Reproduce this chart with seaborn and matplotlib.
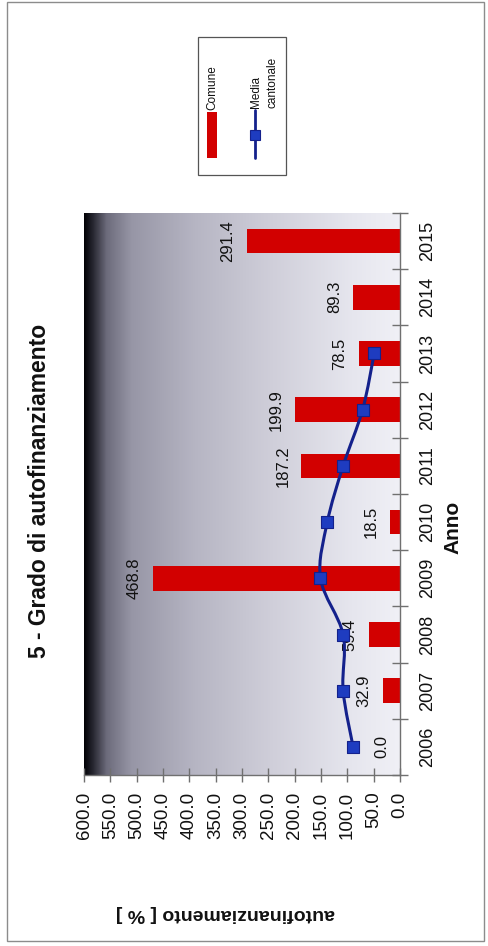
"""Grado di autofinanziamento: bars (Comune) + smoothed line (Media cantonale).

The page is printed rotated by 90 degrees, so the chart is built sideways:
horizontal bars, value axis inverted along x, every text turned by 90.
"""
import numpy as np
import pandas as pd
import seaborn as sns
import matplotlib.pyplot as plt
from matplotlib.colors import LinearSegmentedColormap
from matplotlib.patches import Rectangle, PathPatch
from matplotlib.path import Path
from matplotlib.lines import Line2D

anni = ["2006", "2007", "2008", "2009", "2010", "2011", "2012", "2013", "2014", "2015"]
comune = [0.0, 32.9, 59.4, 468.8, 18.5, 187.2, 199.9, 78.5, 89.3, 291.4]
anni_media = ["2006", "2007", "2008", "2009", "2010", "2011", "2012", "2013"]
media_cantonale = [89.0, 108.0, 108.0, 151.0, 138.0, 108.0, 71.0, 49.0]
valori_ticks = [0, 50, 100, 150, 200, 250, 300, 350, 400, 450, 500, 550, 600]

W, H = 489, 946
RED = "#d20000"
NAVY = "#14218c"
BLUE = "#1e3cc0"


def fx(px):
    return px / W


def fy(py):
    return 1 - py / H


def smooth_path(xs, ys):
    """Catmull-Rom through the points, as cubic Bezier segments."""
    pts = np.column_stack([xs, ys]).astype(float)
    n = len(pts)
    verts, codes = [pts[0]], [Path.MOVETO]
    for i in range(n - 1):
        p0, p1 = pts[max(i - 1, 0)], pts[i]
        p2, p3 = pts[i + 1], pts[min(i + 2, n - 1)]
        verts += [p1 + (p2 - p0) / 6, p2 - (p3 - p1) / 6, p2]
        codes += [Path.CURVE4] * 3
    return Path(verts, codes)


sns.set_style("white")
plt.rcParams["font.family"] = ["Liberation Sans", "DejaVu Sans"]
plt.rcParams.update({"text.color": "#111111", "xtick.color": "#111111",
                     "ytick.color": "#111111"})

df = pd.DataFrame({"anno": anni, "valore": comune})
dm = pd.DataFrame({"anno": anni_media, "valore": media_cantonale})
dm["pos"] = [anni.index(a) for a in dm["anno"]]

fig = plt.figure(figsize=(W / 100, H / 100), dpi=100)
fig.patches.append(Rectangle((fx(7), fy(941)), fx(484) - fx(7), fy(2) - fy(941),
                             transform=fig.transFigure, fill=False,
                             edgecolor="#8c8c8c", lw=1.0))

ax = fig.add_axes([fx(84), fy(775), fx(400) - fx(84), (775 - 213) / H])

# background gradient of the plot area (dark at 600, light at 0)
cmap = LinearSegmentedColormap.from_list("fondo", [
    (0.0, "#020206"), (0.03, "#2c2c36"), (0.07, "#6c6b7b"), (0.15, "#9796a6"),
    (0.35, "#b6b5c3"), (0.6, "#d0cfda"), (0.85, "#e6e6ee"), (1.0, "#f0f0f6")])
ax.imshow(np.linspace(0, 1, 256)[None, :], extent=(600, 0, -0.5, 9.5),
          aspect="auto", cmap=cmap, zorder=0)

sns.barplot(data=df, x="valore", y="anno", orient="h", order=anni,
            color=RED, saturation=1, width=0.44, ax=ax, zorder=2,
            edgecolor="none", linewidth=0)

ax.add_patch(PathPatch(smooth_path(dm["valore"], dm["pos"]), fill=False,
                       edgecolor=NAVY, lw=2.2, zorder=4))
sns.scatterplot(data=dm, x="valore", y="pos", marker="s", s=75, color=BLUE,
                edgecolor=NAVY, linewidth=0.8, zorder=5, ax=ax, legend=False)

for i, v in enumerate(comune):
    ax.annotate(f"{v:.1f}", (v, i), xytext=(-8, 0), textcoords="offset points",
                ha="right", va="center", rotation=90, fontsize=12,
                color="#111111", zorder=3)

ax.set_xlim(600, 0)
ax.set_ylim(-0.5, 9.5)
ax.set_xlabel("")
ax.set_ylabel("")

ax.set_xticks(valori_ticks)
ax.set_xticklabels([f"{v:.1f}" for v in valori_ticks], rotation=90, fontsize=13.5)
ax.tick_params(axis="x", direction="inout", length=10, width=1, color="#707070",
               pad=7, bottom=True)

ax.yaxis.tick_right()
ax.set_yticks(range(len(anni)))
ax.set_yticklabels(anni, rotation=90, fontsize=13, va="center")
ax.set_yticks(np.arange(-0.5, len(anni), 1), minor=True)
ax.tick_params(axis="y", which="major", length=0, pad=14)
ax.tick_params(axis="y", which="minor", direction="inout", length=11, width=1,
               color="#707070", right=True, left=False)

for side in ["left", "top"]:
    ax.spines[side].set_visible(False)
for side in ["right", "bottom"]:
    ax.spines[side].set_color("#707070")
    ax.spines[side].set_linewidth(1)

fig.text(fx(40), fy(491), "5 - Grado di autofinanziamento", rotation=90,
         ha="center", va="center", fontsize=16.5, fontweight="bold")
fig.text(fx(453), fy(527), "Anno", rotation=90, ha="center", va="center",
         fontsize=15, fontweight="bold")
fig.text(fx(225), fy(913), "autofinanziamento [ % ]", rotation=180,
         ha="center", va="center", fontsize=14, fontweight="bold")

# legend box, drawn by hand because it is rotated
fig.patches.append(Rectangle((fx(198), fy(175)), fx(286) - fx(198), fy(37) - fy(175),
                             transform=fig.transFigure, facecolor="white",
                             edgecolor="#555555", lw=0.9))
fig.patches.append(Rectangle((fx(207), fy(158)), fx(217) - fx(207), fy(112) - fy(158),
                             transform=fig.transFigure, facecolor=RED, edgecolor="none"))
fig.lines.append(Line2D([fx(255), fx(255)], [fy(158), fy(110)], transform=fig.transFigure,
                        color=NAVY, lw=2))
fig.lines.append(Line2D([fx(255)], [fy(135)], transform=fig.transFigure, marker="s",
                        ms=7, mfc=BLUE, mec=NAVY, mew=0.8, ls="none"))
fig.text(fx(212), fy(110), "Comune", rotation=90, ha="center", va="bottom", fontsize=8.5)
fig.text(fx(256), fy(108), "Media", rotation=90, ha="center", va="bottom", fontsize=8.5)
fig.text(fx(272), fy(108), "cantonale", rotation=90, ha="center", va="bottom", fontsize=8.5)

fig.savefig("out.png", dpi=100)
